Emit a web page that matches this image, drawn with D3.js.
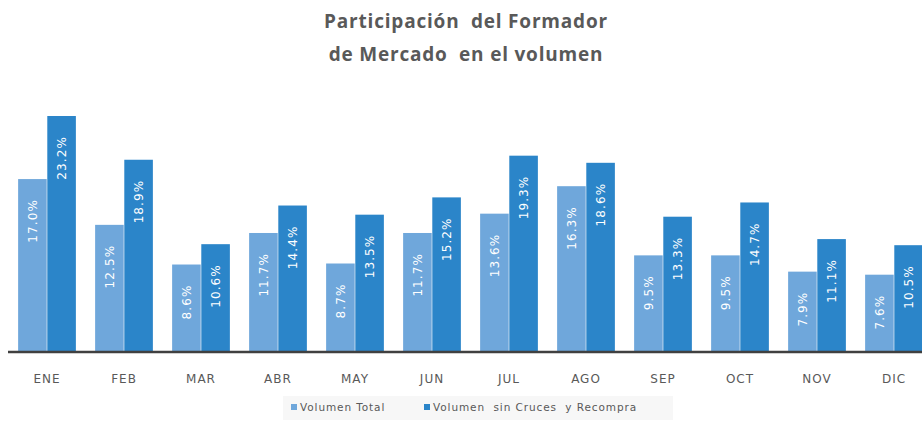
<!DOCTYPE html>
<html>
<head>
<meta charset="utf-8">
<script src="https://cdn.jsdelivr.net/npm/d3@7"></script>
<style>
  body { margin: 0; background: #fff; }
  svg { display: block; }
  text { white-space: pre; }
</style>
</head>
<body>
<div id="chart"></div>
<script>
// Chart data
const months = ["ENE", "FEB", "MAR", "ABR", "MAY", "JUN", "JUL", "AGO", "SEP", "OCT", "NOV", "DIC"];
const volumenTotal = [17.0, 12.5, 8.6, 11.7, 8.7, 11.7, 13.6, 16.3, 9.5, 9.5, 7.9, 7.6];
const volumenSinCruces = [23.2, 18.9, 10.6, 14.4, 13.5, 15.2, 19.3, 18.6, 13.3, 14.7, 11.1, 10.5];
const seriesNames = ["Volumen Total", "Volumen  sin Cruces  y Recompra"];

// Build rows for the grouped bars.
const data = months.map((m, i) => ({
    month: m,
    total: volumenTotal[i],
    sin: volumenSinCruces[i]
}));
const keys = ["total", "sin"];

const width = 922, height = 422;
const baseline = 352;

let svg = d3.select("#chart")
    .append("svg")
    .attr("width", width)
    .attr("height", height);

// Title (two lines, keeps the double spaces)
["Participación  del Formador", "de Mercado  en el volumen"].forEach((line, i) => {
    svg.append("text")
        .attr("x", 466)
        .attr("y", 28 + i * 33)
        .attr("text-anchor", "middle")
        .style("font-family", "'Open Sans', sans-serif")
        .style("font-weight", "bold")
        .style("font-size", "19px")
        .style("letter-spacing", "0.8px")
        .style("fill", "#595959")
        .text(line);
});

// X scale: groups step 77px, first group centred at 47.
let x = d3.scaleBand()
    .domain(months)
    .range([8.5, 8.5 + 77 * 12])
    .paddingInner(0.25)
    .paddingOuter(0.125);

let xSub = d3.scaleBand()
    .domain(keys)
    .range([0, x.bandwidth()])
    .paddingInner(0.02);

// Y scale
let y = d3.scaleLinear()
    .domain([0, 25])
    .range([baseline, baseline - 254.3]);

let color = d3.scaleOrdinal()
    .domain(keys)
    .range(["#6fa7db", "#2b85c9"]);

// Bars
let groups = svg.append("g")
    .selectAll("g")
    .data(data)
    .enter().append("g")
    .attr("transform", d => `translate(${x(d.month)},0)`);

groups.selectAll("rect")
    .data(d => keys.map(k => ({ key: k, value: d[k] })))
    .enter().append("rect")
    .attr("x", d => xSub(d.key))
    .attr("y", d => y(d.value))
    .attr("width", xSub.bandwidth())
    .attr("height", d => y(0) - y(d.value))
    .attr("fill", d => color(d.key));

// Value labels, rotated, inside the top of each bar.
groups.selectAll("text")
    .data(d => keys.map(k => ({ key: k, value: d[k] })))
    .enter().append("text")
    .attr("transform", d => `translate(${xSub(d.key) + xSub.bandwidth() / 2 + 4.5},${y(d.value) + 20}) rotate(-90)`)
    .attr("text-anchor", "end")
    .style("font-family", "'DejaVu Sans', sans-serif")
    .style("font-size", "12px")
    .style("letter-spacing", "1.1px")
    .style("fill", "#ffffff")
    .text(d => d.value.toFixed(1) + "%");

// Axis
let xAxis = svg.append("g")
    .attr("transform", `translate(0,${baseline})`)
    .call(d3.axisBottom(x).tickSize(0).tickSizeOuter(0).tickPadding(22));
xAxis.select(".domain")
    .attr("stroke", "#404040")
    .attr("stroke-width", 2.5)
    .attr("d", `M8,0H${width}`);
xAxis.selectAll("text")
    .style("font-family", "'DejaVu Sans', sans-serif")
    .style("font-size", "12px")
    .style("letter-spacing", "1px")
    .style("fill", "#595959");

// Legend
let legend = svg.append("g");
legend.append("rect")
    .attr("x", 283)
    .attr("y", 396)
    .attr("width", 390)
    .attr("height", 24)
    .attr("fill", "#f7f7f7");

let legendX = [291, 424];
keys.forEach((k, i) => {
    legend.append("rect")
        .attr("x", legendX[i])
        .attr("y", 404)
        .attr("width", 6)
        .attr("height", 6)
        .attr("fill", color(k));
    legend.append("text")
        .attr("x", legendX[i] + 9)
        .attr("y", 411)
        .style("font-family", "'DejaVu Sans', sans-serif")
        .style("font-size", "10.5px")
        .style("letter-spacing", "0.9px")
        .style("fill", "#595959")
        .text(seriesNames[i]);
});
</script>
</body>
</html>
